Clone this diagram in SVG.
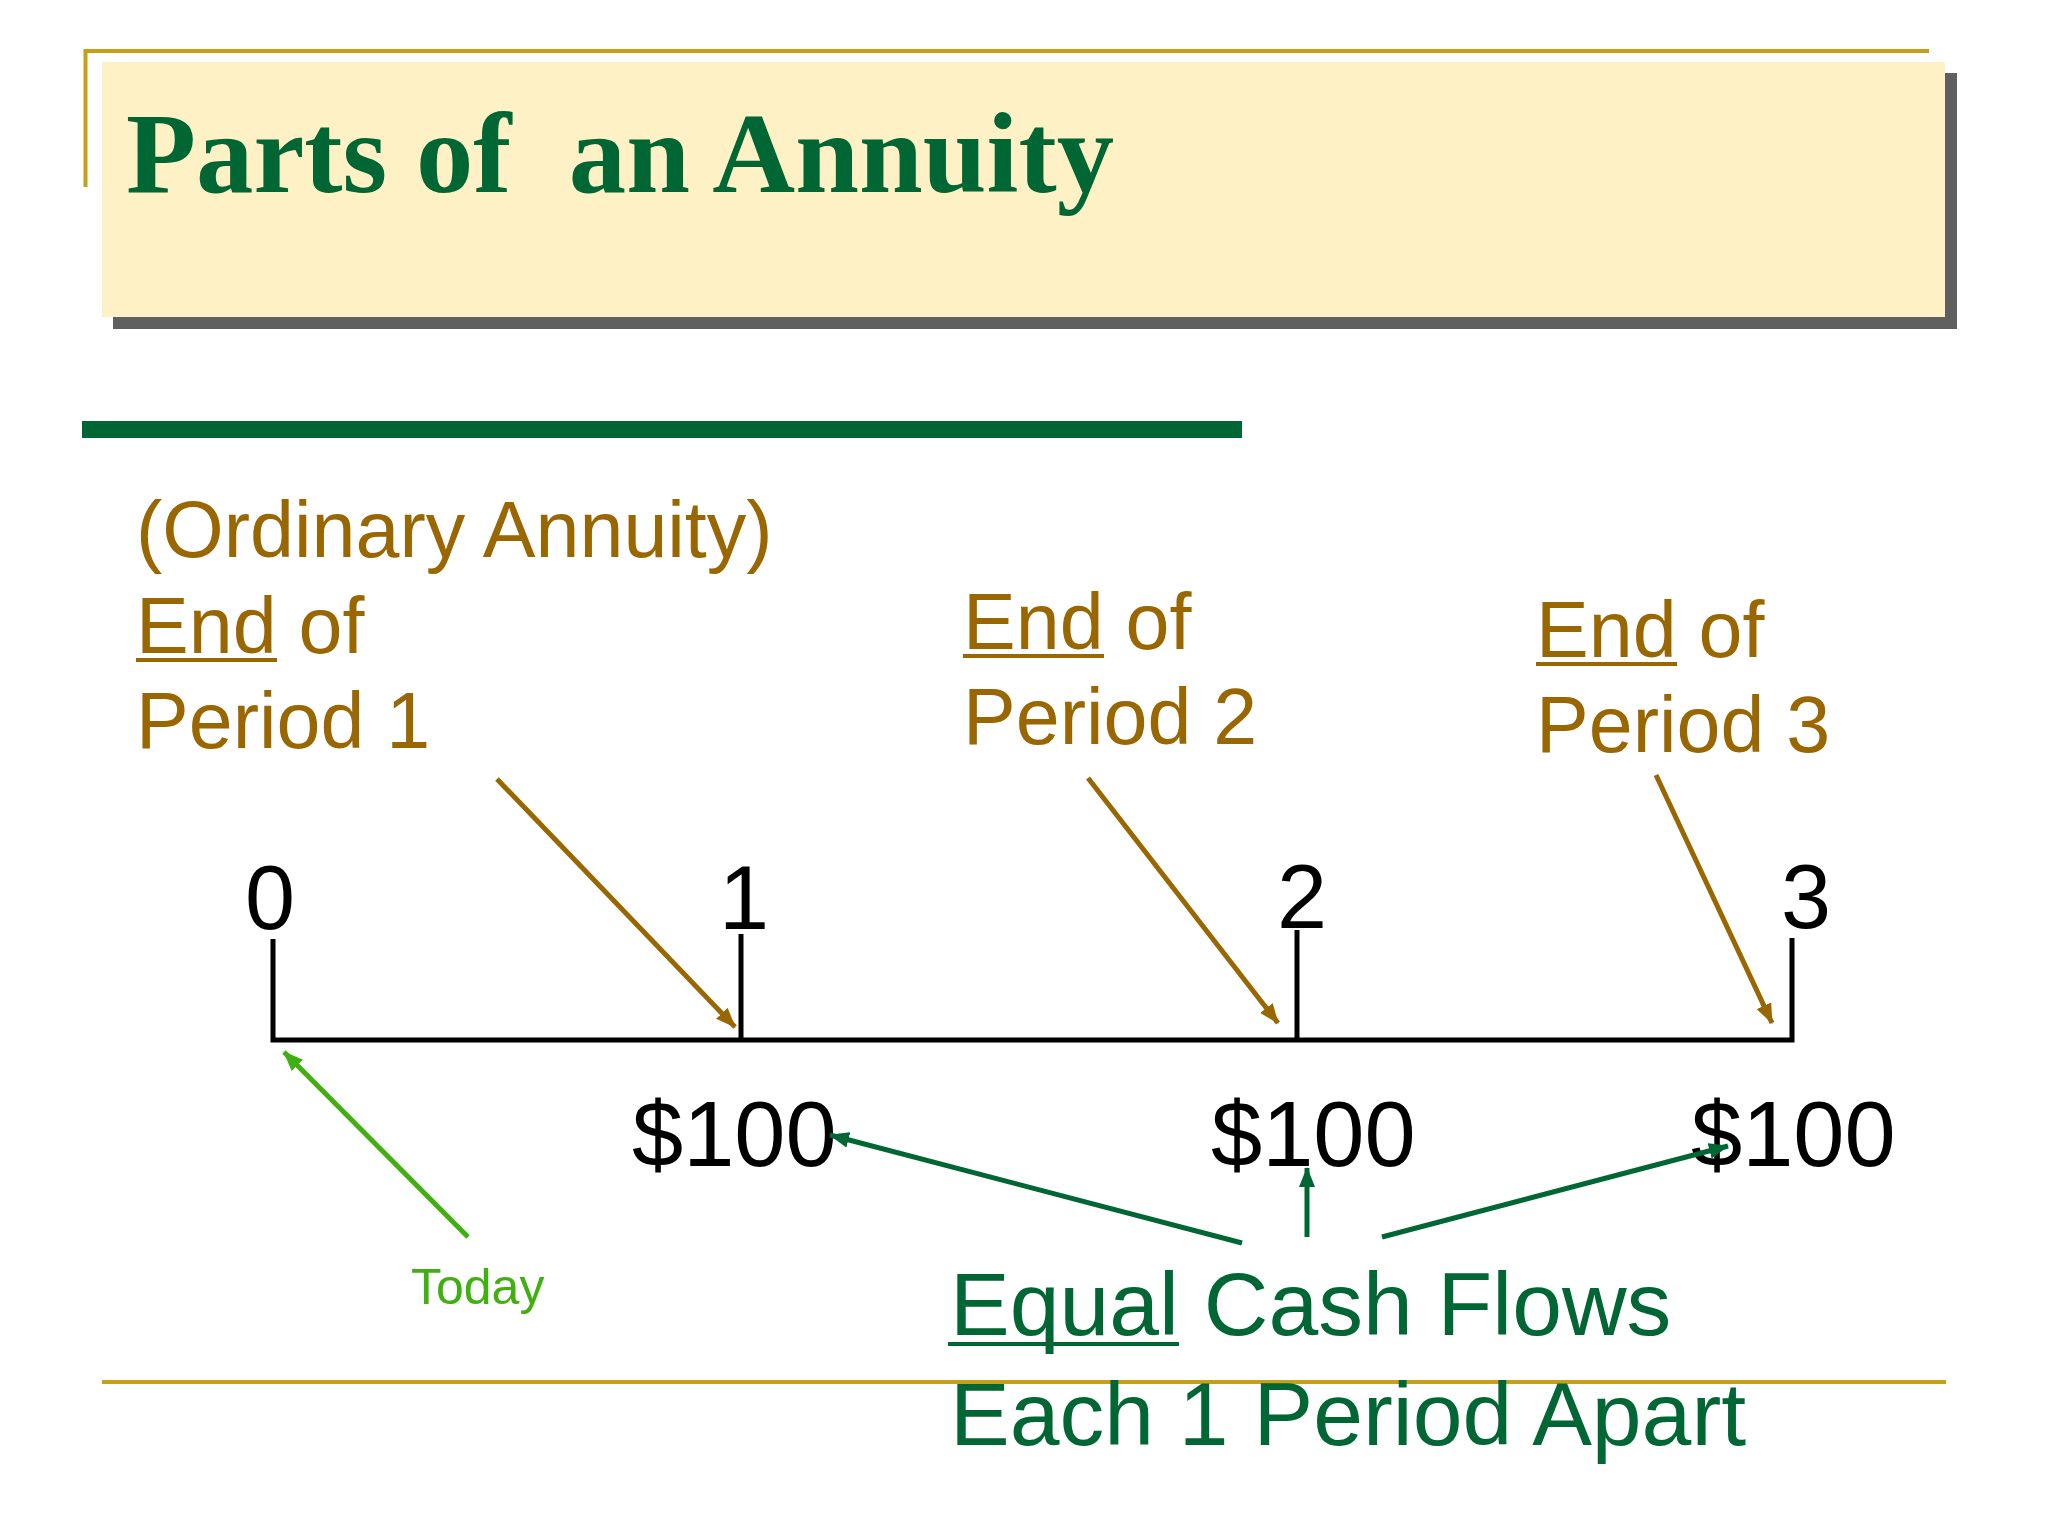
<svg xmlns="http://www.w3.org/2000/svg" width="2048" height="1536" viewBox="0 0 2048 1536">
<style>
.brown{font-family:"Liberation Sans",Arial,sans-serif;font-size:79px;fill:#996600}
.num{font-family:"Liberation Sans",Arial,sans-serif;font-size:90px;fill:#000;text-anchor:middle}
.money{font-family:"Liberation Sans",Arial,sans-serif;font-size:92px;fill:#000}
.green{font-family:"Liberation Sans",Arial,sans-serif;font-size:89.5px;fill:#006633}
.today{font-family:"Liberation Sans",Arial,sans-serif;font-size:50px;fill:#40B010}
.gold{stroke:#C8A018;stroke-width:4;fill:none}
.barr{stroke:#996600;stroke-width:5;fill:none;marker-end:url(#ahBrown)}
.garr{stroke:#006633;stroke-width:5;fill:none;marker-end:url(#ahGreen)}
.larr{stroke:#40B010;stroke-width:5;fill:none;marker-end:url(#ahLight)}
.ul{stroke-width:4}
</style>
<defs>
<marker id="ahBrown" markerUnits="userSpaceOnUse" markerWidth="20" markerHeight="16" refX="19" refY="8" orient="auto"><path d="M0,0 L20,8 L0,16 z" fill="#996600"/></marker>
<marker id="ahGreen" markerUnits="userSpaceOnUse" markerWidth="20" markerHeight="16" refX="19" refY="8" orient="auto"><path d="M0,0 L20,8 L0,16 z" fill="#006633"/></marker>
<marker id="ahLight" markerUnits="userSpaceOnUse" markerWidth="20" markerHeight="16" refX="19" refY="8" orient="auto"><path d="M0,0 L20,8 L0,16 z" fill="#40B010"/></marker>
</defs>
<rect width="2048" height="1536" fill="#FFFFFF"/>

<g id="title">
<path class="gold" d="M85.5,187 V51 H1929"/>
<rect x="113" y="73" width="1844" height="256" fill="#5F5F5F"/>
<rect x="102" y="62" width="1843" height="255" fill="#FFF1C6"/>
<text x="126" y="192" xml:space="preserve" font-family="'Liberation Serif','Times New Roman',serif" font-weight="bold" font-size="114" fill="#006633" textLength="988" lengthAdjust="spacingAndGlyphs">Parts of  an Annuity</text>
</g>

<rect id="green-bar" x="82" y="421" width="1160" height="17" fill="#006633"/>
<line id="bottom-rule" class="gold" x1="102" y1="1382" x2="1946" y2="1382"/>

<g id="label-period1">
<text class="brown" x="136" y="557">(Ordinary Annuity)</text>
<text class="brown" x="136" y="653">End of</text>
<line x1="136" y1="660" x2="277" y2="660" stroke="#996600" class="ul"/>
<text class="brown" x="136" y="748">Period 1</text>
</g>

<g id="label-period2">
<text class="brown" x="963" y="649">End of</text>
<line x1="963" y1="656" x2="1104" y2="656" stroke="#996600" class="ul"/>
<text class="brown" x="963" y="744">Period 2</text>
</g>

<g id="label-period3">
<text class="brown" x="1536" y="657">End of</text>
<line x1="1536" y1="664" x2="1677" y2="664" stroke="#996600" class="ul"/>
<text class="brown" x="1536" y="752">Period 3</text>
</g>

<g id="timeline">
<path d="M273,939 V1040 H1792 V938" stroke="#000" stroke-width="5" fill="none"/>
<line x1="741" y1="934" x2="741" y2="1040" stroke="#000" stroke-width="5"/>
<line x1="1297" y1="930" x2="1297" y2="1040" stroke="#000" stroke-width="5"/>
<text class="num" x="270" y="929">0</text>
<text class="num" x="744" y="929">1</text>
<text class="num" x="1302" y="928">2</text>
<text class="num" x="1806" y="928">3</text>
</g>

<g id="cash-flows">
<text class="money" x="632" y="1166">$100</text>
<text class="money" x="1211" y="1166">$100</text>
<text class="money" x="1691" y="1166">$100</text>
</g>

<g id="label-today">
<text class="today" x="411" y="1304">Today</text>
</g>

<g id="label-equal">
<text class="green" x="950" y="1335">Equal Cash Flows</text>
<line x1="948" y1="1344" x2="1179" y2="1344" stroke="#006633" class="ul"/>
<text class="green" x="950" y="1445">Each 1 Period Apart</text>
</g>

<g id="connectors">
<line class="barr" x1="497" y1="779" x2="735" y2="1027"/>
<line class="barr" x1="1088" y1="778" x2="1278" y2="1023"/>
<line class="barr" x1="1656" y1="775" x2="1772" y2="1023"/>
<line class="larr" x1="468" y1="1237" x2="284" y2="1052"/>
<line class="garr" x1="1242" y1="1243" x2="830" y2="1135"/>
<line class="garr" x1="1307" y1="1237" x2="1307" y2="1168"/>
<line class="garr" x1="1382" y1="1237" x2="1728" y2="1146"/>
</g>
</svg>
